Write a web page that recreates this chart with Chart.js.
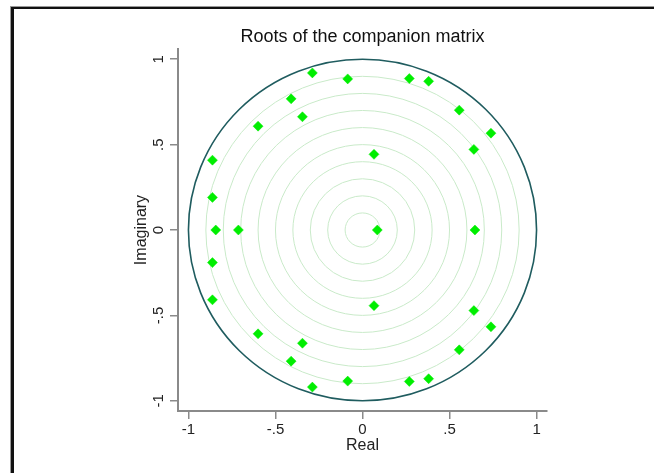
<!DOCTYPE html>
<html>
<head>
<meta charset="utf-8">
<title>Roots of the companion matrix</title>
<script src="https://cdn.jsdelivr.net/npm/chart.js@4.4.1/dist/chart.umd.min.js"></script>
<style>
    html, body { margin: 0; padding: 0; background: #fff; }
    #wrap { position: relative; width: 654px; height: 473px; overflow: hidden; }
    #frame {
        position: absolute; left: 11px; top: 7px; width: 700px; height: 520px;
        border-top: 2px solid #111; border-left: 3px solid #111;
        box-shadow: -1px -1px 0 #999;
    }
    #rootsChart { position: absolute; left: 0; top: 0; }
</style>
</head>
<body>
<div id="wrap">
    <div id="frame"></div>
    <canvas id="rootsChart" width="654" height="473"></canvas>
</div>
<script>
// eigenvalues (real / imaginary parts, conjugate pairs)
const realParts = [
    0.085, -0.843, -0.713, 0.646,
    -0.288, -0.288, -0.085, -0.085, 0.269, 0.269, 0.380, 0.380,
    -0.410, -0.410, -0.345, -0.345, -0.600, -0.600, 0.066, 0.066,
    -0.862, -0.862, -0.862, -0.862, 0.556, 0.556, 0.738, 0.738,
    0.640, 0.640
];
const imagParts = [
    0, 0, 0, 0,
    0.920, -0.920, 0.885, -0.885, 0.887, -0.887, 0.871, -0.871,
    0.768, -0.768, 0.663, -0.663, 0.608, -0.608, 0.443, -0.443,
    0.409, -0.409, 0.191, -0.191, 0.702, -0.702, 0.567, -0.567,
    0.472, -0.472
];
const tickValues = [-1, -0.5, 0, 0.5, 1];
const gridRadii = [0.1, 0.2, 0.3, 0.4, 0.5, 0.6, 0.7, 0.8, 0.9];
const unitRadius = 1;

const FONT = "'Liberation Sans', Arial, sans-serif";
const AXIS_GRAY = '#8a8a8a';

function fmtTick(v) {
    // Stata style: .5 / -.5
    return String(v).replace('0.', '.');
}

// concentric reference circles + unit circle, drawn through the scales
const circlePlugin = {
    id: 'circles',
    beforeDatasetsDraw(chart) {
        const { ctx, scales: { x, y } } = chart;
        const cx = x.getPixelForValue(0);
        const cy = y.getPixelForValue(0);
        const ring = (r, color, width) => {
            const rx = x.getPixelForValue(r) - cx;
            const ry = cy - y.getPixelForValue(r);
            ctx.beginPath();
            ctx.ellipse(cx, cy, rx, ry, 0, 0, Math.PI * 2);
            ctx.strokeStyle = color;
            ctx.lineWidth = width;
            ctx.stroke();
        };
        ctx.save();
        gridRadii.forEach(r => ring(r, '#c9eac9', 1));
        ring(unitRadius, '#1f5c5f', 1.6);
        ctx.restore();
    }
};

// keep the title centred over the plot region rather than the canvas
const titlePlugin = {
    id: 'titleOverPlot',
    afterLayout(chart) {
        const t = chart.titleBlock;
        if (t) {
            t.left = chart.chartArea.left;
            t.right = chart.chartArea.right;
            t.width = t.right - t.left;
        }
    }
};

function axisOptions(isY) {
    return {
        type: 'linear',
        min: -1.06,
        max: 1.06,
        afterBuildTicks: scale => { scale.ticks = tickValues.map(v => ({ value: v })); },
        afterFit: scale => {
            if (isY) scale.width = 58;
            else scale.height = 62;
        },
        border: { display: true, color: AXIS_GRAY, width: 2 },
        grid: { drawOnChartArea: false, drawTicks: true, tickLength: 8, color: AXIS_GRAY, lineWidth: 1.5 },
        ticks: {
            color: '#222',
            font: { family: FONT, size: 15 },
            padding: isY ? 2 : 2,
            autoSkip: false,
            minRotation: isY ? 90 : 0,
            maxRotation: isY ? 90 : 0,
            crossAlign: isY ? 'center' : 'near',
            callback: v => fmtTick(v)
        },
        title: {
            display: true,
            text: isY ? 'Imaginary' : 'Real',
            color: '#222',
            font: { family: FONT, size: 16 },
            padding: isY ? { top: 12.4, bottom: 0 } : { top: 0, bottom: 17.4 }
        }
    };
}

const points = realParts.map((re, i) => ({ x: re, y: imagParts[i] }));

new Chart(document.getElementById('rootsChart'), {
    type: 'scatter',
    data: {
        datasets: [{
            label: 'roots',
            data: points,
            pointStyle: 'rectRot',
            pointRadius: 5,
            pointHoverRadius: 5,
            backgroundColor: '#00ee00',
            borderColor: '#00ee00',
            borderWidth: 0.5
        }]
    },
    options: {
        responsive: false,
        animation: false,
        events: [],
        layout: { padding: { left: 120, right: 107, top: 0, bottom: 0 } },
        plugins: {
            legend: { display: false },
            tooltip: { enabled: false },
            title: {
                display: true,
                text: 'Roots of the companion matrix',
                color: '#111',
                font: { family: FONT, size: 18, weight: 'normal' },
                padding: { top: 26.2, bottom: 1.2 }
            }
        },
        scales: {
            x: axisOptions(false),
            y: axisOptions(true)
        }
    },
    plugins: [circlePlugin, titlePlugin]
});
</script>
</body>
</html>
